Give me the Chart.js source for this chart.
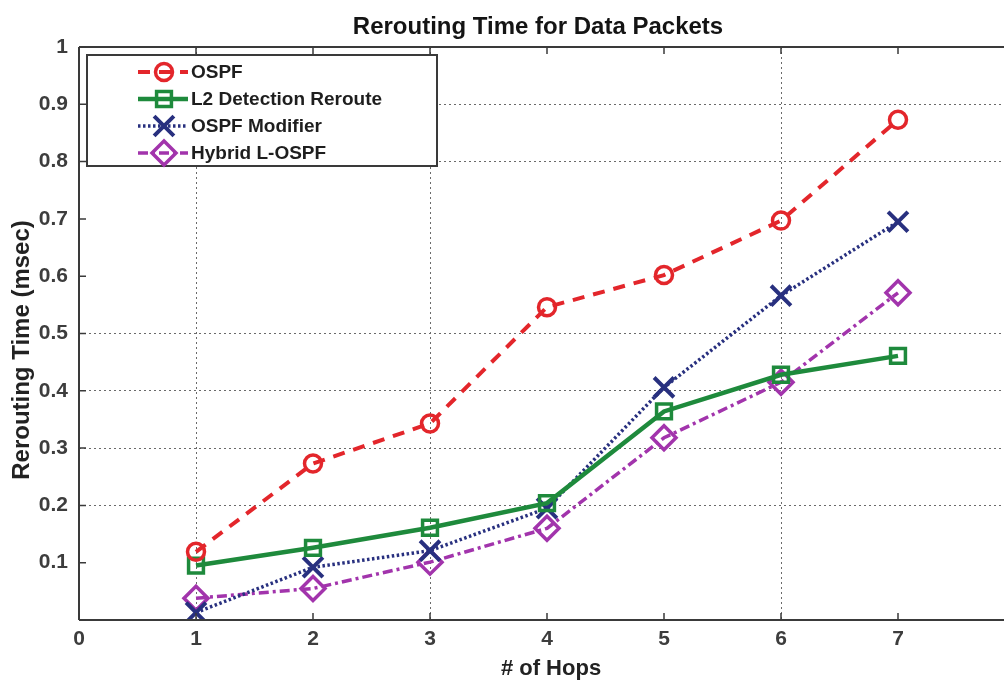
<!DOCTYPE html>
<html>
<head>
<meta charset="utf-8">
<script src="https://cdn.jsdelivr.net/npm/chart.js@4/dist/chart.umd.min.js"></script>
<style>
html,body{margin:0;padding:0;background:#fff;overflow:hidden;width:1004px;height:682px}
canvas{display:block}
</style>
</head>
<body>
<canvas id="c" width="1040" height="682"></canvas>
<script>
// ---- data ----
const hops = [1, 2, 3, 4, 5, 6, 7];
const xTicks = [0, 1, 2, 3, 4, 5, 6, 7, 8];
const yTicks = [0, 0.1, 0.2, 0.3, 0.4, 0.5, 0.6, 0.7, 0.8, 0.9, 1];
const seriesNames = ['OSPF', 'L2 Detection Reroute', 'OSPF Modifier', 'Hybrid L-OSPF'];
const ospf         = [0.119, 0.273, 0.343, 0.546, 0.602, 0.697, 0.873];
const l2Reroute    = [0.095, 0.126, 0.161, 0.204, 0.364, 0.428, 0.461];
const ospfModifier = [0.013, 0.092, 0.121, 0.195, 0.406, 0.566, 0.695];
const hybridLOspf  = [0.038, 0.055, 0.101, 0.160, 0.318, 0.415, 0.571];
const chartTitle = 'Rerouting Time for Data Packets';
const xTitle = '# of Hops';
const yTitle = 'Rerouting Time (msec)';

// gridlines that are visible in the reference
const xGridShown = [1, 3, 6];
const yGridShown = [0.2, 0.3, 0.4, 0.5, 0.8, 0.9];

const pts = arr => arr.map((v, i) => ({x: hops[i], y: v}));
const r1 = v => Math.round(v * 10) / 10;

const FONT = "'Liberation Sans', Arial, sans-serif";
const AXIS = '#3a3a3a';

const datasets = [
  {label: seriesNames[0], data: pts(ospf), borderColor: '#e3262b', borderWidth: 4,
   borderDash: [12, 9], pointStyle: 'circle', pointRadius: 8.5, pointBorderWidth: 3.5},
  {label: seriesNames[1], data: pts(l2Reroute), borderColor: '#1e8a3c', borderWidth: 4.5,
   borderDash: [], pointStyle: 'rect', pointRadius: 10.5, pointBorderWidth: 3.5},
  {label: seriesNames[2], data: pts(ospfModifier), borderColor: '#28307f', borderWidth: 3.5,
   borderDash: [2.5, 2.5], pointStyle: 'crossRot', pointRadius: 14, pointBorderWidth: 4},
  {label: seriesNames[3], data: pts(hybridLOspf), borderColor: '#a234ac', borderWidth: 3.5,
   borderDash: [10, 4, 3, 4], pointStyle: 'rectRot', pointRadius: 12, pointBorderWidth: 3.5}
].map(d => Object.assign(d, {
  backgroundColor: 'rgba(0,0,0,0)',
  pointBackgroundColor: 'rgba(0,0,0,0)',
  pointBorderColor: d.borderColor,
  pointHoverRadius: d.pointRadius,
  tension: 0,
  fill: false,
  clip: 0
}));

const framePlugin = {
  id: 'frame',
  afterDatasetsDraw(chart) {
    const {ctx, chartArea: a, scales: {x, y}} = chart;
    ctx.save();
    ctx.strokeStyle = AXIS;
    ctx.lineWidth = 2;
    ctx.setLineDash([]);
    ctx.beginPath();
    ctx.moveTo(a.left, a.top); ctx.lineTo(a.right, a.top);
    ctx.moveTo(a.left, a.top); ctx.lineTo(a.left, a.bottom);
    ctx.moveTo(a.left, a.bottom); ctx.lineTo(a.right, a.bottom);
    ctx.moveTo(a.right, a.top); ctx.lineTo(a.right, a.bottom);
    ctx.stroke();
    ctx.lineWidth = 1.5;
    ctx.beginPath();
    xTicks.forEach(v => {
      const px = x.getPixelForValue(v);
      ctx.moveTo(px, a.top); ctx.lineTo(px, a.top + 7);
      ctx.moveTo(px, a.bottom); ctx.lineTo(px, a.bottom - 7);
    });
    yTicks.forEach(v => {
      const py = y.getPixelForValue(v);
      ctx.moveTo(a.left, py); ctx.lineTo(a.left + 7, py);
    });
    ctx.stroke();
    ctx.restore();
  },
  afterDraw(chart) {
    const {ctx} = chart;
    ctx.save();
    // titles
    ctx.fillStyle = '#141414';
    ctx.textAlign = 'center';
    ctx.textBaseline = 'middle';
    ctx.font = 'bold 24px ' + FONT;
    ctx.fillText(chartTitle, 538, 27);
    ctx.fillStyle = '#222';
    ctx.font = 'bold 22px ' + FONT;
    ctx.fillText(xTitle, 551, 669);
    ctx.save();
    ctx.translate(22, 350);
    ctx.rotate(-Math.PI / 2);
    ctx.font = 'bold 24px ' + FONT;
    ctx.fillText(yTitle, 0, 0);
    ctx.restore();

    // legend
    const bx = 87, by = 55, bw = 350, bh = 111;
    ctx.fillStyle = '#fff';
    ctx.fillRect(bx, by, bw, bh);
    ctx.strokeStyle = AXIS;
    ctx.lineWidth = 2;
    ctx.setLineDash([]);
    ctx.strokeRect(bx, by, bw, bh);
    const rows = [72, 99, 126, 153];
    chart.data.datasets.forEach((d, i) => {
      const ry = rows[i];
      ctx.strokeStyle = d.borderColor;
      ctx.lineWidth = d.borderWidth;
      ctx.setLineDash(d.borderDash || []);
      ctx.beginPath();
      ctx.moveTo(138, ry); ctx.lineTo(188, ry);
      ctx.stroke();
      ctx.setLineDash([]);
      ctx.lineWidth = d.pointBorderWidth;
      ctx.fillStyle = 'rgba(0,0,0,0)';
      Chart.helpers.drawPoint(ctx, {pointStyle: d.pointStyle, radius: d.pointRadius, rotation: 0, borderWidth: d.pointBorderWidth}, 164, ry);
      ctx.fillStyle = '#1e1e1e';
      ctx.textAlign = 'left';
      ctx.textBaseline = 'middle';
      ctx.font = 'bold 19px ' + FONT;
      ctx.fillText(d.label, 191, ry + 1);
    });
    ctx.restore();
  }
};

new Chart(document.getElementById('c'), {
  type: 'line',
  data: {datasets},
  options: {
    responsive: false,
    devicePixelRatio: 1,
    animation: false,
    layout: {padding: {left: 0, top: 47, right: 25, bottom: 0}},
    plugins: {legend: {display: false}, title: {display: false}, tooltip: {enabled: false}},
    scales: {
      x: {
        type: 'linear', min: 0, max: 8,
        afterBuildTicks: s => { s.ticks = xTicks.map(v => ({value: v})); },
        afterFit: s => { s.height = 62; },
        ticks: {padding: 7, color: '#3d3d3d', font: {family: FONT, size: 21, weight: 'bold'},
                callback: v => String(v)},
        grid: {drawTicks: false, lineWidth: 1,
               color: c => (c.tick && xGridShown.includes(c.tick.value)) ? '#6a6a6a' : 'rgba(0,0,0,0)'},
        border: {display: false, dash: [2, 3]}
      },
      y: {
        type: 'linear', min: 0, max: 1,
        afterBuildTicks: s => { s.ticks = yTicks.map(v => ({value: v})); },
        afterFit: s => { s.width = 79; },
        ticks: {padding: 11, color: '#3d3d3d', font: {family: FONT, size: 21, weight: 'bold'},
                callback: v => v === 0 ? '' : String(r1(v))},
        grid: {drawTicks: false, lineWidth: 1,
               color: c => (c.tick && yGridShown.includes(r1(c.tick.value))) ? '#6a6a6a' : 'rgba(0,0,0,0)'},
        border: {display: false, dash: [2, 3]}
      }
    }
  },
  plugins: [framePlugin]
});
</script>
</body>
</html>
